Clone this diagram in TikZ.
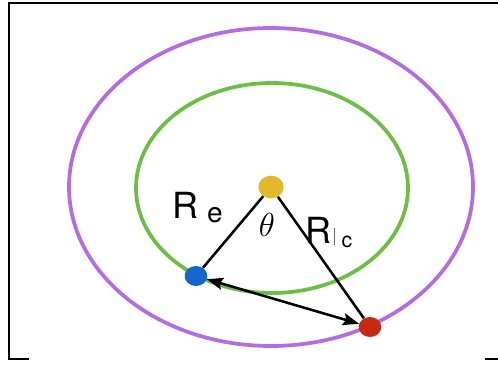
\documentclass[tikz,border=0pt]{standalone}
\usepackage{fontspec}
\setmainfont{TeX Gyre Heros}
\usepackage{xcolor,tikz}
\usetikzlibrary{positioning,calc,arrows.meta,shapes.geometric}
\definecolor{orbOuterLine}{HTML}{B36CE2}
\definecolor{orbInnerLine}{HTML}{6DBE45}
\definecolor{dotYellow}{HTML}{E2B92A}
\definecolor{dotBlue}{HTML}{1566C8}
\definecolor{dotRed}{HTML}{C62A12}

\tikzset{
  dotmark/.style={ellipse, inner sep=0pt, minimum width=17, minimum height=15},
  radline/.style={black, line width=1.9pt},
  lbl/.style={inner sep=0pt, anchor=base}
}

\begin{document}
\begin{tikzpicture}[x=0.75pt, y=-0.75pt]

\useasboundingbox (0,0) rectangle (498,366);

\def\xC{271}
\def\yC{187}

% --- FRAME ---
\draw[black, line width=2.2pt] (9,359) -- (9,3) -- (498,3);
\draw[black, line width=2.2pt] (8,359) -- (29,359);
\draw[black, line width=2.2pt] (485,359) -- (498,359);

% --- ORBITS ---
\draw[orbOuterLine, line width=2.8pt] (\xC,\yC) ellipse [x radius=202, y radius=159];
\draw[orbInnerLine, line width=2.8pt] (\xC+1,\yC+1) ellipse [x radius=136, y radius=105];

% --- BODIES ---
\node[dotmark, fill=dotYellow, minimum width=19, minimum height=17] (hub) at (\xC,\yC) {};
\node[dotmark, fill=dotBlue] (pe) at (196,276) {};
\node[dotmark, fill=dotRed] (pc) at (370,327) {};

% --- RADII ---
\draw[radline] (hub) -- (pe);
\draw[radline] (hub) -- (pc);
\draw[radline, {Stealth[length=12pt,width=9pt,inset=2pt]}-{Stealth[length=12pt,width=9pt,inset=2pt]}]
  (pe) -- (pc);

% --- LABELS ---
\node[lbl, font=\fontsize{27}{27}\selectfont] (re) at (185,219) {R};
\node[lbl, font=\fontsize{21}{21}\selectfont] (resub) at (215,222) {e};
\node[lbl, font=\fontsize{27}{27}\selectfont] (ang) at (267,236) {$\theta$};
\node[lbl, font=\fontsize{27}{27}\selectfont] (rc) at (318,243) {R};
\node[lbl, font=\fontsize{16}{16}\selectfont] (rcsub) at (347,247) {c};
\draw[black!60, line width=0.6pt] (334,228) -- (334,245);

\end{tikzpicture}
\end{document}
